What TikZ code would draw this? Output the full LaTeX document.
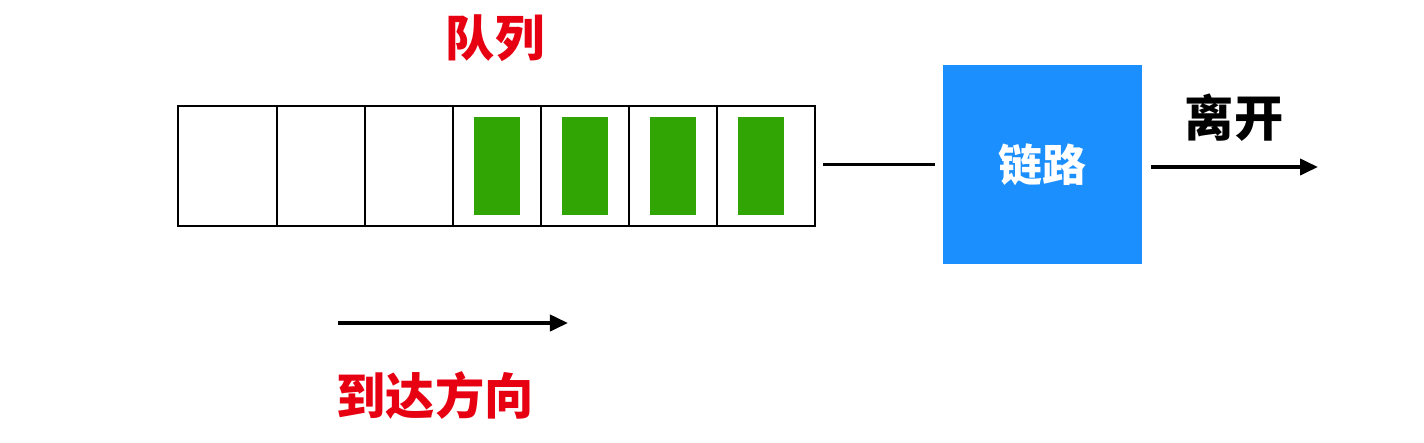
\documentclass[tikz,border=0pt]{standalone}
\usepackage{fontspec}
\newfontfamily\cjk{Noto Sans CJK SC}
\usetikzlibrary{arrows.meta, positioning}
\definecolor{qred}{RGB}{230,0,18}
\definecolor{qgreen}{RGB}{49,165,3}
\definecolor{qblue}{RGB}{28,143,255}
\tikzstyle{cell}=[draw,line width=0.8pt,fill=white,rectangle,inner sep=0pt,minimum width=0.88cm,minimum height=1.2cm]
\tikzstyle{packet}=[fill=qgreen,rectangle,inner sep=0pt,minimum width=0.46cm,minimum height=0.98cm]
\tikzstyle{label}=[font=\cjk\bfseries\fontsize{14pt}{16pt}\selectfont]
\tikzstyle{wire}=[line width=1.1pt]

\begin{document}
\begin{tikzpicture}[x=0.01cm,y=-0.01cm,>={Triangle[length=0.18cm,width=0.16cm]}]
  \useasboundingbox (0,0) rectangle (1424,442);
  % queue cells
  \node[cell, minimum width=0.99cm] (cell1) at (227.5,166) {};
  \node[cell] (cell2) at (321,166) {};
  \node[cell] (cell3) at (409,166) {};
  \node[cell] (cell4) at (497,166) {};
  \node[cell] (cell5) at (585,166) {};
  \node[cell] (cell6) at (673,166) {};
  \node[cell, minimum width=0.98cm] (cell7) at (766,166) {};
  \node[packet] (pkt1) at (cell4) {};
  \node[packet] (pkt2) at (cell5) {};
  \node[packet] (pkt3) at (cell6) {};
  \node[packet] (pkt4) at (761,166) {};
  \node[label, text=qred] (queue) at (495,38) {队列};
  % link
  \node[rectangle, fill=qblue, minimum size=1.99cm, inner sep=0pt,
        font=\cjk\bfseries\fontsize{12.5pt}{14pt}\selectfont, text=white] (link) at (1042.5,164.5) {链路};
  \node[label] (leave) at (1234,118) {离开};
  \coordinate (out) at (1318,167);
  \draw[wire, shorten <=0.07cm, shorten >=0.07cm] (link.west -| cell7.east) -- (link.west);
  \draw[wire, ->] ([xshift=0.08cm]link.east |- out) -- (out);
  % arrival
  \coordinate (arrfrom) at (338,323);
  \coordinate (arrto) at (568,323);
  \draw[wire, ->] (arrfrom) -- (arrto);
  \node[label, text=qred] (arrival) at (435,395) {到达方向};
\end{tikzpicture}
\end{document}
